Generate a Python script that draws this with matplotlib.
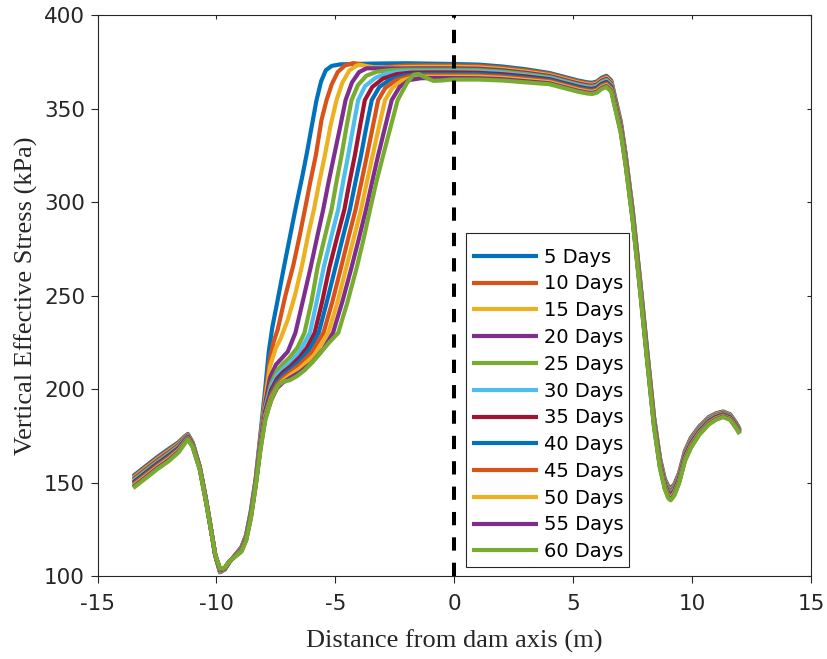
import matplotlib
matplotlib.use("Agg")
import matplotlib.pyplot as plt

# ---------------- data ----------------
days = [5, 10, 15, 20, 25, 30, 35, 40, 45, 50, 55, 60]
series_labels = [f"{d} Days" for d in days]
colors = ["#0072BD", "#D95319", "#EDB120", "#7E2F8E", "#77AC30", "#4DBEEE",
          "#A2142F", "#0072BD", "#D95319", "#EDB120", "#7E2F8E", "#77AC30"]

x_ticks = [-15, -10, -5, 0, 5, 10, 15]
y_ticks = [100, 150, 200, 250, 300, 350, 400]
dam_axis_x = 0

# shared x positions, upstream (left) part
x_left = [-13.5, -13.0, -12.5, -12.0, -11.6, -11.35, -11.2, -11.0, -10.7, -10.45,
          -10.25, -10.05, -9.85, -9.65, -9.45, -9.2, -8.95, -8.75, -8.55, -8.35]
# shared x positions, downstream (right) part
x_right = [0.0, 1.0, 2.0, 3.0, 4.0, 4.6, 5.2, 5.6, 5.8, 6.0, 6.2, 6.4, 6.6, 6.8, 7.0,
           7.2, 7.5, 7.8, 8.1, 8.4, 8.65, 8.85, 9.0, 9.1, 9.25, 9.45, 9.7, 9.95,
           10.3, 10.7, 11.0, 11.3, 11.6, 11.85, 12.0]

# ---- 5 days
y_left_05 = [153.5, 158.5, 163.5, 168.0, 171.5, 174.5, 176.0, 171.5, 158.5, 142.0, 127.0, 111.0, 102.0, 103.5, 107.5, 111.5, 115.5, 122.0, 135.0, 152.0]
rise_x_05 = [-8.15, -7.95, -7.8, -7.65, -7.45, -7.15, -6.9, -6.65, -6.4, -6.2, -6.0, -5.8, -5.6, -5.4, -5.15, -4.8, -4.0, -3.0, -2.0, -1.0]
rise_y_05 = [176, 200, 220, 233, 246, 266, 282, 298, 313, 326, 340, 354, 364.5, 370.5, 372.8, 373.6, 373.9, 374.1, 374.2, 374.0]
y_right_05 = [373.8, 373.5, 372.5, 371.0, 369.0, 367.0, 365.0, 364.0, 363.8, 364.5, 366.5, 367.5, 365.0, 354.0, 343.0, 326.0, 296.0, 260.0, 222.0, 185.0, 163.0, 152.0, 148.0, 147.0, 149.0, 155.0, 167.0, 174.0, 180.0, 185.0, 187.0, 188.0, 186.5, 182.0, 178.5]

# ---- 10 days
y_left_10 = [152.9, 157.9, 162.9, 167.4, 171.0, 174.1, 175.7, 171.3, 158.4, 141.9, 126.9, 111.0, 102.2, 103.6, 107.5, 111.4, 115.3, 121.7, 134.6, 151.6]
rise_x_10 = [-8.15, -7.95, -7.75, -7.6, -7.42, -7.1, -6.77, -6.5, -6.28, -6.05, -5.82, -5.58, -5.37, -5.15, -4.9, -4.6, -4.25, -3.9, -3.55, -3.26, -2.9, -2.5, -2.0, -1.0]
rise_y_10 = [174, 196, 216, 225, 232, 250, 266, 282, 296, 311, 325, 344, 354.5, 363, 369.5, 373, 374.3, 373.5, 372, 371.5, 372, 372.6, 373, 373.1]
y_right_10 = [373.0, 372.8, 371.8, 370.4, 368.5, 366.5, 364.5, 363.5, 363.3, 364.0, 366.0, 367.0, 364.5, 353.5, 342.5, 325.5, 295.5, 259.5, 221.5, 184.5, 162.5, 151.5, 147.4, 146.4, 148.5, 154.5, 166.5, 173.5, 179.6, 184.6, 186.7, 187.7, 186.2, 181.7, 178.3]

# ---- 15 days
y_left_15 = [152.3, 157.3, 162.3, 166.8, 170.5, 173.8, 175.5, 171.0, 158.2, 141.7, 126.8, 111.1, 102.4, 103.7, 107.6, 111.3, 115.0, 121.5, 134.3, 151.3]
rise_x_15 = [-8.15, -7.95, -7.75, -7.5, -7.3, -7.0, -6.7, -6.4, -6.15, -5.9, -5.67, -5.44, -5.2, -4.95, -4.7, -4.4, -4.1, -3.95, -3.6, -3.2, -2.7, -2.0, -1.0]
rise_y_15 = [173, 194, 212, 222, 227, 237, 250, 266, 282, 296, 311, 325, 341, 354.5, 364, 370.5, 373, 373.3, 372.5, 371.8, 371.8, 372.2, 372.3]
y_right_15 = [372.3, 372.0, 371.1, 369.7, 367.9, 365.9, 363.9, 362.9, 362.7, 363.4, 365.4, 366.4, 363.9, 352.9, 341.9, 324.9, 294.9, 258.9, 220.9, 184.0, 162.0, 151.0, 146.8, 145.8, 147.9, 154.0, 166.0, 173.0, 179.2, 184.3, 186.4, 187.5, 186.0, 181.5, 178.0]

# ---- 20 days
y_left_20 = [151.7, 156.7, 161.7, 166.2, 170.0, 173.4, 175.2, 170.8, 158.1, 141.6, 126.7, 111.1, 102.5, 103.8, 107.6, 111.2, 114.8, 121.2, 133.9, 150.9]
rise_x_20 = [-8.15, -7.95, -7.75, -7.5, -7.25, -7.0, -6.68, -6.35, -6.04, -5.77, -5.51, -5.28, -5.05, -4.8, -4.57, -4.3, -4.0, -3.68, -3.2, -2.5, -1.5, -1.0]
rise_y_20 = [172, 192, 206, 213, 216.5, 220, 230, 248, 265, 281, 296, 311, 325, 340, 354.5, 364, 369.5, 371.5, 371.5, 371.4, 371.5, 371.5]
y_right_20 = [371.5, 371.3, 370.5, 369.1, 367.4, 365.4, 363.4, 362.4, 362.2, 362.9, 364.9, 365.9, 363.4, 352.4, 341.4, 324.4, 294.4, 258.4, 220.4, 183.5, 161.5, 150.5, 146.2, 145.2, 147.4, 153.5, 165.5, 172.5, 178.8, 183.9, 186.0, 187.2, 185.7, 181.2, 177.8]

# ---- 25 days
y_left_25 = [151.1, 156.1, 161.1, 165.6, 169.5, 173.0, 174.9, 170.6, 158.0, 141.5, 126.6, 111.2, 102.7, 103.9, 107.7, 111.1, 114.6, 120.9, 133.5, 150.5]
rise_x_25 = [-8.15, -7.95, -7.7, -7.45, -7.2, -6.95, -6.6, -6.3, -6.0, -5.75, -5.45, -5.16, -4.95, -4.74, -4.52, -4.32, -4.05, -3.7, -3.26, -2.7, -2.0, -1.0]
rise_y_25 = [171, 190, 203, 210, 213.5, 216.5, 222, 230, 247, 265, 281, 296, 311, 325, 341, 354.5, 362.5, 367.5, 369.7, 370.5, 370.8, 370.8]
y_right_25 = [370.8, 370.6, 369.8, 368.5, 366.8, 364.8, 362.8, 361.8, 361.6, 362.3, 364.3, 365.3, 362.8, 351.8, 340.8, 323.8, 293.8, 257.8, 219.8, 183.0, 161.0, 150.0, 145.6, 144.6, 146.8, 153.0, 165.0, 172.0, 178.4, 183.5, 185.7, 186.9, 185.4, 180.9, 177.6]

# ---- 30 days
y_left_30 = [150.5, 155.5, 160.5, 165.0, 169.0, 172.7, 174.6, 170.4, 157.8, 141.3, 126.5, 111.2, 102.9, 104.0, 107.7, 111.0, 114.4, 120.6, 133.2, 150.2]
rise_x_30 = [-8.15, -7.95, -7.7, -7.45, -7.2, -6.9, -6.5, -6.07, -5.78, -5.49, -5.18, -4.88, -4.67, -4.46, -4.25, -4.04, -3.75, -3.3, -2.84, -2.3, -1.5, -1.0]
rise_y_30 = [170.5, 189, 201, 207.5, 211, 214, 220, 230, 247, 265, 281, 296, 311, 325, 340, 354.5, 362, 366.5, 368.8, 369.8, 370.0, 370.0]
y_right_30 = [370.0, 369.9, 369.1, 367.8, 366.3, 364.3, 362.3, 361.3, 361.1, 361.8, 363.8, 364.8, 362.3, 351.3, 340.3, 323.3, 293.3, 257.3, 219.3, 182.5, 160.5, 149.5, 145.0, 144.0, 146.3, 152.5, 164.5, 171.5, 178.0, 183.2, 185.4, 186.6, 185.1, 180.6, 177.4]

# ---- 35 days
y_left_35 = [150.0, 155.0, 160.0, 164.5, 168.5, 172.3, 174.4, 170.1, 157.7, 141.2, 126.5, 111.3, 103.1, 104.0, 107.8, 111.0, 114.1, 120.4, 132.8, 149.8]
rise_x_35 = [-8.15, -7.95, -7.7, -7.45, -7.2, -6.9, -6.5, -6.2, -5.87, -5.55, -5.25, -4.93, -4.62, -4.4, -4.18, -3.97, -3.76, -3.45, -3.0, -2.42, -1.8, -1.0]
rise_y_35 = [170, 188, 199.5, 205.5, 209, 212, 217, 222, 230, 247, 265, 281, 296, 311, 325, 340, 354.5, 361.5, 366, 368.4, 369.2, 369.3]
y_right_35 = [369.3, 369.1, 368.4, 367.2, 365.7, 363.7, 361.7, 360.7, 360.5, 361.2, 363.2, 364.2, 361.7, 350.7, 339.7, 322.7, 292.7, 256.7, 218.7, 182.0, 160.0, 149.0, 144.5, 143.5, 145.7, 152.0, 164.0, 171.0, 177.5, 182.8, 185.1, 186.4, 184.9, 180.4, 177.1]

# ---- 40 days
y_left_40 = [149.4, 154.4, 159.4, 163.9, 168.0, 172.0, 174.1, 169.9, 157.5, 141.0, 126.4, 111.3, 103.3, 104.1, 107.8, 110.9, 113.9, 120.1, 132.5, 149.5]
rise_x_40 = [-8.15, -7.95, -7.7, -7.45, -7.2, -6.9, -6.5, -6.1, -5.7, -5.35, -5.0, -4.69, -4.39, -4.15, -3.92, -3.7, -3.47, -3.15, -2.7, -2.1, -1.5, -1.0]
rise_y_40 = [169.5, 187, 198, 204, 207.5, 210.5, 215, 221, 230, 247, 265, 281, 296, 311, 325, 340, 354.5, 361.5, 365.5, 367.7, 368.4, 368.5]
y_right_40 = [368.5, 368.4, 367.7, 366.5, 365.2, 363.2, 361.2, 360.2, 360.0, 360.7, 362.7, 363.7, 361.2, 350.2, 339.2, 322.2, 292.2, 256.2, 218.2, 181.5, 159.5, 148.5, 143.9, 142.9, 145.2, 151.5, 163.5, 170.5, 177.1, 182.5, 184.8, 186.1, 184.6, 180.1, 176.9]

# ---- 45 days
y_left_45 = [148.8, 153.8, 158.8, 163.3, 167.5, 171.6, 173.8, 169.7, 157.4, 140.9, 126.3, 111.4, 103.5, 104.2, 107.9, 110.8, 113.7, 119.8, 132.1, 149.1]
rise_x_45 = [-8.15, -7.95, -7.7, -7.45, -7.2, -6.9, -6.5, -6.0, -5.5, -5.12, -4.76, -4.45, -4.15, -3.9, -3.67, -3.43, -3.2, -2.9, -2.45, -1.9, -1.3, -1.0]
rise_y_45 = [169, 186, 196.5, 202.5, 206, 209, 213, 219.5, 230, 247, 265, 281, 296, 311, 325, 340, 354.5, 361, 365.2, 367.2, 367.7, 367.8]
y_right_45 = [367.8, 367.7, 367.0, 365.9, 364.6, 362.6, 360.6, 359.6, 359.4, 360.1, 362.1, 363.1, 360.6, 349.6, 338.6, 321.6, 291.6, 255.6, 217.6, 181.0, 159.0, 148.0, 143.3, 142.3, 144.6, 151.0, 163.0, 170.0, 176.7, 182.1, 184.5, 185.8, 184.3, 179.8, 176.7]

# ---- 50 days
y_left_50 = [148.2, 153.2, 158.2, 162.7, 167.0, 171.2, 173.5, 169.5, 157.3, 140.8, 126.2, 111.4, 103.6, 104.3, 107.9, 110.7, 113.5, 119.5, 131.7, 148.7]
rise_x_50 = [-8.15, -7.95, -7.7, -7.45, -7.2, -6.9, -6.5, -5.9, -5.3, -4.9, -4.54, -4.22, -3.92, -3.67, -3.43, -3.17, -2.91, -2.6, -2.2, -1.7, -1.2, -1.0]
rise_y_50 = [168.5, 185, 195, 201, 204.5, 207.5, 211, 218, 230, 247, 265, 281, 296, 311, 325, 340, 354.5, 361, 365, 366.7, 367.0, 367.0]
y_right_50 = [367.0, 367.0, 366.4, 365.3, 364.1, 362.1, 360.1, 359.1, 358.9, 359.6, 361.6, 362.6, 360.1, 349.1, 338.1, 321.1, 291.1, 255.1, 217.1, 180.5, 158.5, 147.5, 142.7, 141.7, 144.1, 150.5, 162.5, 169.5, 176.3, 181.7, 184.1, 185.5, 184.0, 179.5, 176.5]

# ---- 55 days
y_left_55 = [147.6, 152.6, 157.6, 162.1, 166.5, 170.9, 173.3, 169.2, 157.1, 140.6, 126.1, 111.5, 103.8, 104.4, 108.0, 110.6, 113.2, 119.3, 131.4, 148.4]
rise_x_55 = [-8.15, -7.95, -7.7, -7.45, -7.2, -6.9, -6.5, -6.0, -5.5, -5.1, -4.7, -4.32, -4.0, -3.71, -3.45, -3.2, -2.91, -2.63, -2.3, -1.9, -1.4, -1.0]
rise_y_55 = [168, 184, 194, 200.5, 203.5, 206, 209, 214, 221.5, 230, 247, 265, 281, 296, 311, 325, 340, 354.5, 361.5, 365.2, 366.2, 366.3]
y_right_55 = [366.3, 366.2, 365.7, 364.6, 363.5, 361.5, 359.5, 358.5, 358.3, 359.0, 361.0, 362.0, 359.5, 348.5, 337.5, 320.5, 290.5, 254.5, 216.5, 180.0, 158.0, 147.0, 142.1, 141.1, 143.5, 150.0, 162.0, 169.0, 175.9, 181.4, 183.8, 185.3, 183.8, 179.3, 176.2]

# ---- 60 days
y_left_60 = [147.0, 152.0, 157.0, 161.5, 166.0, 170.5, 173.0, 169.0, 157.0, 140.5, 126.0, 111.5, 104.0, 104.5, 108.0, 110.5, 113.0, 119.0, 131.0, 148.0]
rise_x_60 = [-8.15, -7.95, -7.75, -7.6, -7.4, -7.2, -6.9, -6.6, -6.3, -5.95, -5.65, -5.25, -4.88, -4.5, -4.1, -3.8, -3.54, -3.27, -2.99, -2.68, -2.38, -2.0, -1.72, -1.5, -1.2, -0.88, -0.5, -0.2]
rise_y_60 = [167.5, 183, 192, 197, 202, 203.8, 204.8, 207, 210, 214.5, 219, 225, 230, 246, 265, 281, 296, 311, 325, 340, 354.5, 363.5, 368, 368.5, 366.5, 364.8, 365.0, 365.4]
y_right_60 = [365.5, 365.5, 365.0, 364.0, 363.0, 361.0, 359.0, 358.0, 357.8, 358.5, 360.5, 361.5, 359.0, 348.0, 337.0, 320.0, 290.0, 254.0, 216.0, 179.5, 157.5, 146.5, 141.5, 140.5, 143.0, 149.5, 161.5, 168.5, 175.5, 181.0, 183.5, 185.0, 183.5, 179.0, 176.0]

all_series = [
    (y_left_05, rise_x_05, rise_y_05, y_right_05),
    (y_left_10, rise_x_10, rise_y_10, y_right_10),
    (y_left_15, rise_x_15, rise_y_15, y_right_15),
    (y_left_20, rise_x_20, rise_y_20, y_right_20),
    (y_left_25, rise_x_25, rise_y_25, y_right_25),
    (y_left_30, rise_x_30, rise_y_30, y_right_30),
    (y_left_35, rise_x_35, rise_y_35, y_right_35),
    (y_left_40, rise_x_40, rise_y_40, y_right_40),
    (y_left_45, rise_x_45, rise_y_45, y_right_45),
    (y_left_50, rise_x_50, rise_y_50, y_right_50),
    (y_left_55, rise_x_55, rise_y_55, y_right_55),
    (y_left_60, rise_x_60, rise_y_60, y_right_60),
]

# ---------------- figure ----------------
fig = plt.figure(figsize=(8.27, 6.59), dpi=100)
ax = fig.add_axes([0.1179, 0.1259, 0.8628, 0.8513])

for (yl, rx, ry, yr), lab, col in zip(all_series, series_labels, colors):
    xs = x_left + rx + x_right
    ys = yl + ry + yr
    ax.plot(xs, ys, color=col, lw=3.0, label=lab,
            solid_joinstyle="round", solid_capstyle="butt")

ax.axvline(dam_axis_x, color="black", lw=2.9, linestyle=(0, (3.3, 3.0)), zorder=5)

ax.set_xlim(-15, 15)
ax.set_ylim(100, 400)
ax.set_xticks(x_ticks)
ax.set_yticks(y_ticks)
ax.set_xticklabels([str(t) for t in x_ticks])
ax.set_yticklabels([str(t) for t in y_ticks])

dark = "#262626"
for s in ax.spines.values():
    s.set_color(dark)
    s.set_linewidth(0.8)
ax.tick_params(axis="both", which="major", direction="out", length=5, width=0.8,
               colors=dark, labelsize=15.5, labelcolor=dark)
ax.tick_params(axis="x", pad=8)
ax.tick_params(axis="y", pad=4)

# box-side ticks (top / right), pointing inwards
secx = ax.secondary_xaxis("top")
secx.set_xticks(x_ticks)
secx.tick_params(direction="in", length=3, width=0.8, colors=dark, labeltop=False)
secx.spines["top"].set_visible(False)
secy = ax.secondary_yaxis("right")
secy.set_yticks(y_ticks)
secy.tick_params(direction="in", length=3, width=0.8, colors=dark, labelright=False)
secy.spines["right"].set_visible(False)

ax.set_xlabel("Distance from dam axis (m)", family="Liberation Serif",
              fontsize=19, color=dark, labelpad=11)
ax.set_ylabel("Vertical Effective Stress (kPa)", family="Liberation Serif",
              fontsize=19, color=dark, labelpad=4)

leg = ax.legend(loc="lower left", bbox_to_anchor=(0.5165, 0.016), fontsize=14,
                frameon=True, fancybox=False, framealpha=1, edgecolor=dark,
                handlelength=3.4, handletextpad=0.3, labelspacing=0.40,
                borderpad=0.3, borderaxespad=0.0, title=" ", title_fontsize=0.8)
leg.get_frame().set_linewidth(0.8)
for line in leg.get_lines():
    line.set_linewidth(3.0)

fig.savefig("out.png", dpi=100)
